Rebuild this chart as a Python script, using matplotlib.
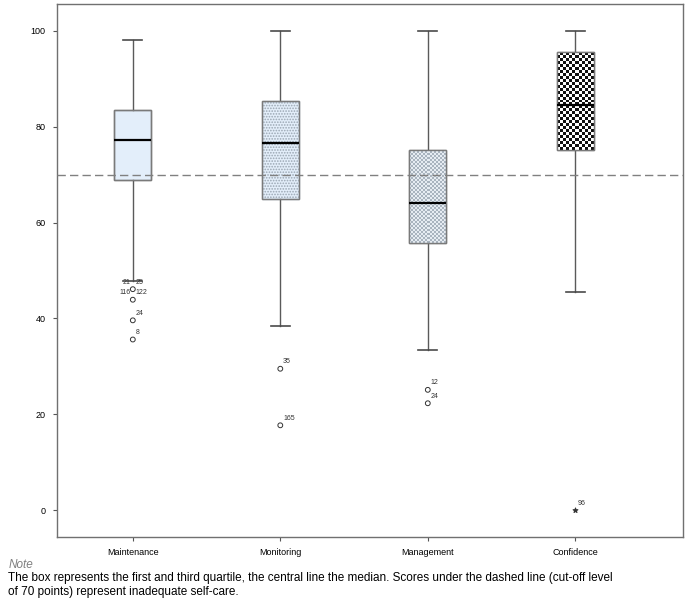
import matplotlib

matplotlib.use("Agg")

import matplotlib.pyplot as plt
import numpy as np

plt.rcParams["font.family"] = ["Liberation Sans", "DejaVu Sans"]
plt.rcParams["hatch.linewidth"] = 0.8

# data
categories = ["Maintenance", "Monitoring", "Management", "Confidence"]
whisker_low = [47.8, 38.4, 33.4, 45.5]
quartile_1 = [68.9, 64.9, 55.7, 75.2]
medians = [77.2, 76.6, 64.1, 84.6]
quartile_3 = [83.5, 85.4, 75.2, 95.6]
whisker_high = [98.0, 100.0, 100.0, 100.0]

outlier_values = [
    [46.1, 43.9, 39.6, 35.6],
    [29.5, 17.7],
    [25.1, 22.3],
    [0.0],
]
# (left label, right label) for each outlier
outlier_labels = [
    [("21", "25"), ("116", "122"), ("", "24"), ("", "8")],
    [("", "35"), ("", "165")],
    [("", "12"), ("", "24")],
    [("", "96")],
]
extreme_outliers = [False, False, False, True]

cutoff = 70
y_ticks = [0, 20, 40, 60, 80, 100]

note_title = "Note"
note_text = (
    "The box represents the first and third quartile, the central line the "
    "median. Scores under the dashed line (cut-off level\n"
    "of 70 points) represent inadequate self-care."
)


def checker_fill(ax, patch, cell_px, colors):
    """
    Fill a box patch with a checkerboard image clipped to it.
    """

    ax.figure.canvas.draw()
    bbox = patch.get_window_extent()
    nx = max(int(round(bbox.width / cell_px)), 1)
    ny = max(int(round(bbox.height / cell_px)), 1)
    grid = (np.add.outer(np.arange(ny), np.arange(nx)) % 2).astype(float)

    ext = patch.get_path().get_extents()
    cmap = matplotlib.colors.ListedColormap(colors)
    image = ax.imshow(
        grid,
        cmap=cmap,
        vmin=0,
        vmax=1,
        extent=(ext.x0, ext.x1, ext.y0, ext.y1),
        interpolation="nearest",
        aspect="auto",
        zorder=patch.get_zorder() + 0.1,
    )
    image.set_clip_path(patch)


fig = plt.figure(figsize=(6.85, 6.01), dpi=100)
ax = fig.add_axes([0.083, 0.1065, 0.914, 0.8869])

positions = np.arange(1, len(categories) + 1)

stats = []
for i, name in enumerate(categories):
    stats.append(
        {
            "label": name,
            "whislo": whisker_low[i],
            "q1": quartile_1[i],
            "med": medians[i],
            "q3": quartile_3[i],
            "whishi": whisker_high[i],
            "fliers": [],
        }
    )

parts = ax.bxp(
    stats,
    positions=positions,
    widths=0.25,
    capwidths=0.13,
    patch_artist=True,
    showfliers=False,
    boxprops={"edgecolor": "#7a7a7a", "linewidth": 1.0},
    medianprops={"color": "black", "linewidth": 1.6},
    whiskerprops={"color": "#5a5a5a", "linewidth": 1.0},
    capprops={"color": "#4a4a4a", "linewidth": 1.2},
)

boxes = parts["boxes"]
boxes[0].set_facecolor("#e3eefa")
boxes[1].set_facecolor("#e3eefa")
boxes[1].set_hatch("......")
boxes[1].set_edgecolor("#9aa6b2")
boxes[2].set_facecolor("#d9e0e8")
boxes[3].set_facecolor("white")

for median in parts["medians"]:
    median.set_zorder(5)

ax.set_xlim(0.485, 4.73)
ax.set_ylim(-5.6, 105.6)

checker_fill(ax, boxes[2], 2.0, ["#e6ecf2", "#a9b4bf"])
checker_fill(ax, boxes[3], 3.0, ["white", "#111111"])
for box in boxes:
    box.set_zorder(2)
    box_edge = matplotlib.patches.PathPatch(
        box.get_path(),
        facecolor="none",
        edgecolor="#7a7a7a",
        linewidth=1.0,
        zorder=4,
    )
    ax.add_patch(box_edge)

for i, pos in enumerate(positions):
    values = outlier_values[i]
    marker = "*" if extreme_outliers[i] else "o"
    ax.scatter(
        [pos] * len(values),
        values,
        marker=marker,
        s=14 if extreme_outliers[i] else 12,
        facecolors="none" if not extreme_outliers[i] else "#333333",
        edgecolors="#333333",
        linewidths=0.7,
        zorder=6,
    )
    for value, (left, right) in zip(values, outlier_labels[i]):
        if left:
            ax.annotate(
                left,
                (pos, value),
                xytext=(-1.5, 2.5),
                textcoords="offset points",
                ha="right",
                va="bottom",
                fontsize=5,
                color="#333333",
            )
        if right:
            ax.annotate(
                right,
                (pos, value),
                xytext=(2, 2.5),
                textcoords="offset points",
                ha="left",
                va="bottom",
                fontsize=5,
                color="#333333",
            )

ax.axhline(
    cutoff,
    color="#808080",
    linestyle=(0, (6, 3)),
    linewidth=1.0,
    zorder=7,
)

ax.set_xticks(positions)
ax.set_xticklabels(categories, fontsize=6.5)
ax.set_yticks(y_ticks)
ax.set_yticklabels([str(t) for t in y_ticks], fontsize=6.5)
ax.tick_params(axis="both", length=3, color="#555555", pad=5)

for spine in ax.spines.values():
    spine.set_color("#707070")
    spine.set_linewidth(1.0)

fig.text(
    0.012,
    1 - 565 / 601,
    note_title,
    fontsize=8.5,
    style="italic",
    color="#808080",
    va="center",
)
fig.text(
    0.012,
    1 - 585 / 601,
    note_text,
    fontsize=8.5,
    color="black",
    va="center",
    linespacing=1.15,
)

fig.savefig("out.png", dpi=100)
plt.close(fig)
